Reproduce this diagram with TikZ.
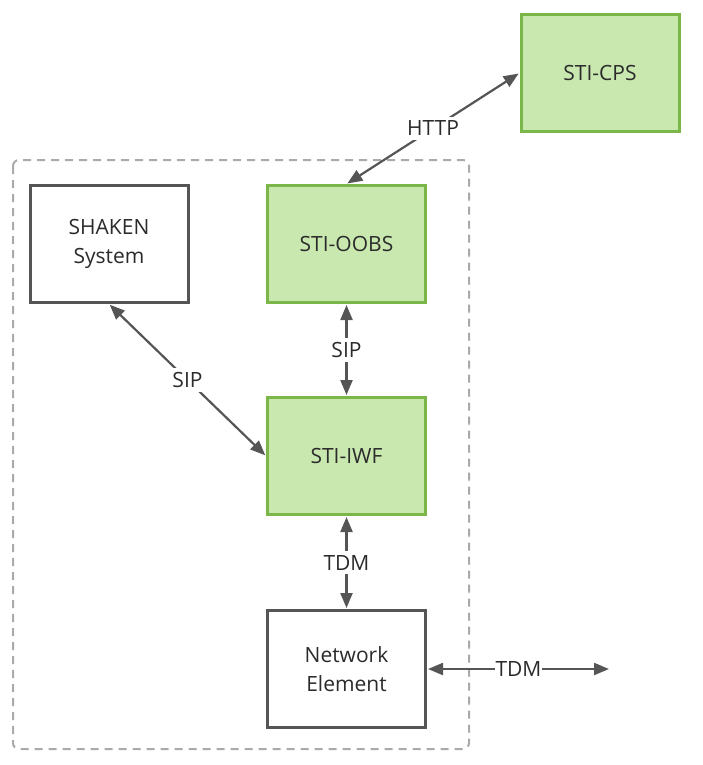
\documentclass[tikz,border=0pt]{standalone}
\usepackage{fontspec}
\setmainfont{Open Sans}
\usetikzlibrary{arrows.meta}
\definecolor{gfill}{HTML}{C9E8B0}
\definecolor{gdraw}{HTML}{7AB648}
\definecolor{bdraw}{HTML}{555555}
\definecolor{txt}{HTML}{2B2B2B}
\definecolor{dgray}{HTML}{AAAAAA}
\tikzset{
  box/.style={draw=bdraw, line width=3pt, fill=white, minimum width=158pt, minimum height=117pt, inner sep=0pt, align=center, text=txt, font=\fontsize{21}{29}\selectfont},
  gbox/.style={box, draw=gdraw, fill=gfill},
  conn/.style={draw=bdraw, line width=2.2pt, {Triangle[length=15pt,width=12pt]}-{Triangle[length=15pt,width=12pt]}, shorten <=1pt, shorten >=1pt},
  lbl/.style={fill=white, inner sep=4pt, text=txt, font=\fontsize{21}{25}\selectfont}
}
\begin{document}
\begin{tikzpicture}[x=1pt,y=-1pt]
\useasboundingbox (0,0) rectangle (703,765);
\draw[dgray, line width=2pt, dash pattern=on 8pt off 6pt, rounded corners=6pt] (13,160) rectangle (469,749);
\node[gbox] (cps) at (600,73) {STI-CPS};
\node[box] (shaken) at (109,244) {SHAKEN\\System};
\node[gbox] (oobs) at (346.5,244) {STI-OOBS};
\node[gbox] (iwf) at (346.5,456) {STI-IWF};
\node[box] (ne) at (346.5,669) {Network\\Element};
\coordinate (ext) at (610,669);
\draw[conn] (oobs.north) -- node[lbl, pos=0.5] {HTTP} (cps.west);
\draw[conn] (oobs.south) -- node[lbl] {SIP} (iwf.north);
\draw[conn] (shaken.south) -- node[lbl] {SIP} (iwf.west);
\draw[conn] (iwf.south) -- node[lbl] {TDM} (ne.north);
\draw[conn] (ne.east) -- node[lbl, inner sep=1pt] {TDM} (ext);
\end{tikzpicture}
\end{document}
